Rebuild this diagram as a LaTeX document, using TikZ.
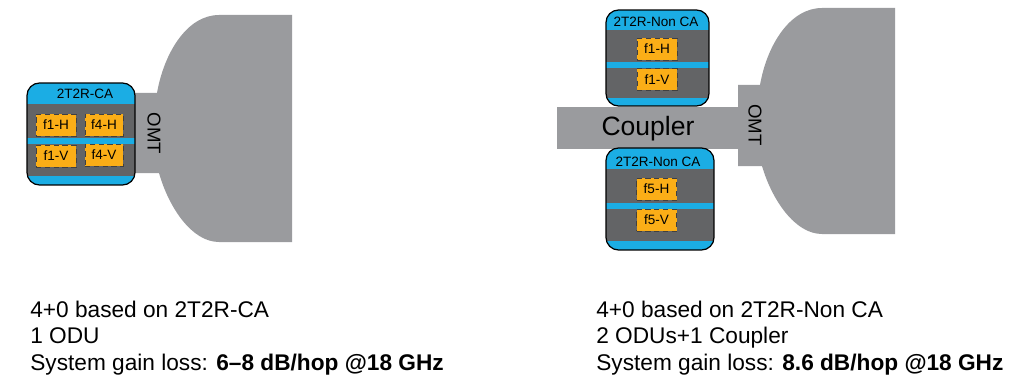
\documentclass[tikz,border=0pt]{standalone}
\usepackage{fontspec}
\setmainfont{Liberation Sans}
\definecolor{hornGray}{HTML}{9A9B9E}
\definecolor{oduGray}{HTML}{636466}
\definecolor{bandBlue}{HTML}{1BADE4}
\definecolor{freqOrange}{HTML}{FBAE17}
\tikzset{
  freq/.style={draw=black!75, densely dashed, line width=0.5pt, fill=freqOrange, minimum width=0.8cm, minimum height=0.44cm, inner sep=0pt, font=\fontsize{7.7}{10}\selectfont},
  odutitle/.style={font=\fontsize{7.7}{10}\selectfont, inner sep=0pt},
  omtlabel/.style={rotate=-90, font=\fontsize{10.6}{12}\selectfont, inner sep=0pt},
  caption/.style={anchor=base west, inner sep=0pt, font=\fontsize{12.9}{15}\selectfont},
  oduedge/.style={draw=black, line width=0.7pt, rounded corners=0.25cm}
}
\begin{document}
\begin{tikzpicture}[x=0.02cm, y=-0.02cm]
  \useasboundingbox (0,0) rectangle (1030,375);

  % left horn and OMT
  \fill[hornGray] (135,93) -- (157,93) .. controls (164,53) and (187,15) .. (219,15) -- (292,15) -- (292,242) -- (219,242) .. controls (192,242) and (169,208) .. (159,173) -- (135,173) -- cycle;
  \node[omtlabel] (omtA) at (154,133.5) {OMT};

  % left ODU
  \begin{scope}
    \clip[rounded corners=0.25cm] (27,83) rectangle (135,185);
    \fill[oduGray] (27,83) rectangle (135,185);
    \fill[bandBlue] (27,83) rectangle (135,104);
    \fill[bandBlue] (27,138) rectangle (135,144);
    \fill[bandBlue] (27,176) rectangle (135,185);
  \end{scope}
  \draw[oduedge] (27,83) rectangle (135,185);
  \node[odutitle] (titleA) at (85,94) {2T2R-CA};
  \node[freq] (fAa) at (56,125) {f1-H};
  \node[freq, minimum width=0.76cm] (fAb) at (104,125) {f4-H};
  \node[freq] (fAc) at (56,156) {f1-V};
  \node[freq, minimum width=0.76cm] (fAd) at (104,155) {f4-V};

  % right horn and OMT
  \fill[hornGray] (738,85) -- (760,85) .. controls (767,45) and (790,8) .. (822,8) -- (895,8) -- (895,234) -- (822,234) .. controls (795,234) and (772,200) .. (762,166) -- (738,166) -- cycle;
  \node[omtlabel] (omtB) at (755,125) {OMT};

  % coupler
  \fill[hornGray] (557,107) rectangle (740,149);
  \node[inner sep=0pt, font=\fontsize{15.1}{18}\selectfont] (coupler) at (648,129) {Coupler};

  % upper right ODU
  \begin{scope}
    \clip[rounded corners=0.25cm] (606,10) rectangle (709,106);
    \fill[oduGray] (606,10) rectangle (709,106);
    \fill[bandBlue] (606,10) rectangle (709,30);
    \fill[bandBlue] (606,62) rectangle (709,68);
    \fill[bandBlue] (606,98) rectangle (709,106);
  \end{scope}
  \draw[oduedge] (606,10) rectangle (709,106);
  \node[odutitle] (titleB) at (656,22) {2T2R-Non CA};
  \node[freq] (fBa) at (657,49) {f1-H};
  \node[freq] (fBb) at (657,79.5) {f1-V};

  % lower right ODU
  \begin{scope}
    \clip[rounded corners=0.25cm] (606,148) rectangle (714,250);
    \fill[oduGray] (606,148) rectangle (714,250);
    \fill[bandBlue] (606,148) rectangle (714,169);
    \fill[bandBlue] (606,203) rectangle (714,209);
    \fill[bandBlue] (606,241) rectangle (714,250);
  \end{scope}
  \draw[oduedge] (606,148) rectangle (714,250);
  \node[odutitle] (titleC) at (658,162) {2T2R-Non CA};
  \node[freq] (fCa) at (656.5,189) {f5-H};
  \node[freq] (fCb) at (656.5,220) {f5-V};

  % captions
  \node[caption] (capAa) at (30,317) {4+0 based on 2T2R-CA};
  \node[caption] (capAb) at (30,343.5) {1 ODU};
  \node[caption] (capAc) at (30,370) {System gain loss: \textbf{6–8 dB/hop @18 GHz}};
  \node[caption] (capBa) at (596,317) {4+0 based on 2T2R-Non CA};
  \node[caption] (capBb) at (596,343.5) {2 ODUs+1 Coupler};
  \node[caption] (capBc) at (596,370) {System gain loss: \textbf{8.6 dB/hop @18 GHz}};
\end{tikzpicture}
\end{document}
